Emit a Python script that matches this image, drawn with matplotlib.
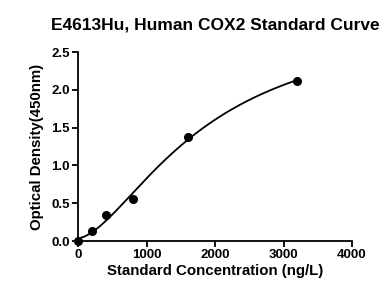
import numpy as np
import matplotlib
matplotlib.use("Agg")
import matplotlib.pyplot as plt

plt.rcParams['font.family'] = ['Liberation Sans', 'DejaVu Sans']
plt.rcParams['font.weight'] = 'bold'

conc = np.array([0, 200, 400, 800, 1600, 3200])
od = np.array([0.0, 0.13, 0.34, 0.55, 1.38, 2.12])


def four_pl(x, p):
    a, b, c, d = p
    return d + (a - d) / (1 + (np.maximum(x, 1e-9) / c) ** b)


def fit_4pl(x, y, p0, n_iter=200):
    # small Levenberg-Marquardt, no scipy here
    p = np.array(p0, dtype=float)
    lam = 1e-2
    for _ in range(n_iter):
        r = y - four_pl(x, p)
        J = np.zeros((len(x), len(p)))
        for k in range(len(p)):
            dp = np.zeros_like(p)
            dp[k] = 1e-6 * max(abs(p[k]), 1)
            J[:, k] = (four_pl(x, p + dp) - four_pl(x, p - dp)) / (2 * dp[k])
        A = J.T @ J
        step = np.linalg.solve(A + lam * np.diag(np.diag(A)), J.T @ r)
        p_new = p + step
        if p_new[2] > 0 and np.sum((y - four_pl(x, p_new)) ** 2) < np.sum(r ** 2):
            p = p_new
            lam *= 0.5
        else:
            lam *= 4
    return p


params = fit_4pl(conc, od, [0.02, 1.8, 1500, 2.6])
xs = np.linspace(0, conc.max(), 300)

fig = plt.figure(figsize=(3.83, 2.89), dpi=100)
ax = fig.add_axes([0.204, 0.166, 0.715, 0.654])

ax.plot(xs, four_pl(xs, params), color='black', lw=1.3, zorder=2)
ax.plot(conc, od, 'o', color='black', ms=5.5, zorder=3, clip_on=False)

ax.set_xlim(0, 4000)
ax.set_ylim(0, 2.5)
ax.set_xticks([0, 1000, 2000, 3000, 4000])
ax.set_yticks([0.0, 0.5, 1.0, 1.5, 2.0, 2.5])
ax.set_yticklabels(['0.0', '0.5', '1.0', '1.5', '2.0', '2.5'])

for s in ['top', 'right']:
    ax.spines[s].set_visible(False)
for s in ['left', 'bottom']:
    ax.spines[s].set_linewidth(1.3)
ax.tick_params(width=1.3, length=4, labelsize=9.5, pad=2)

ax.set_title('E4613Hu, Human COX2 Standard Curve', fontsize=12.5,
             fontweight='bold', pad=16)
ax.set_xlabel('Standard Concentration (ng/L)', fontsize=10.8, fontweight='bold', labelpad=2)
ax.set_ylabel('Optical Density(450nm)', fontsize=10.8, fontweight='bold', labelpad=5)

fig.savefig('out.png', dpi=100)
